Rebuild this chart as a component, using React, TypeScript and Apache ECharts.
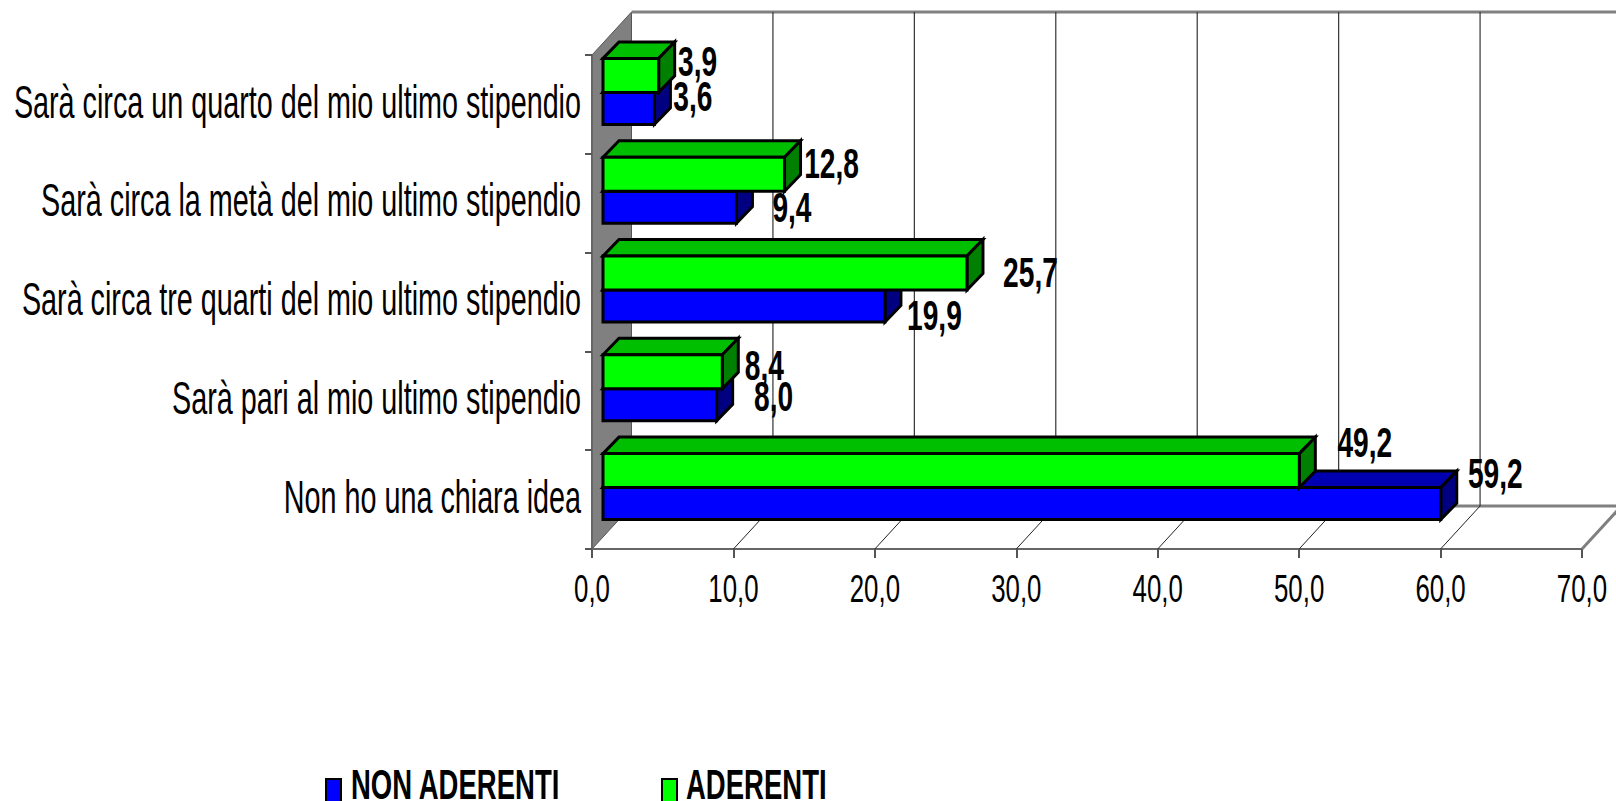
import React, { useEffect, useRef } from "react";
import * as echarts from "echarts";

const categories = [
  "Non ho una chiara idea",
  "Sarà pari al mio ultimo stipendio",
  "Sarà circa tre quarti del mio ultimo stipendio",
  "Sarà circa la metà del mio ultimo stipendio",
  "Sarà circa un quarto del mio ultimo stipendio",
];
const nonAderenti = [59.2, 8.0, 19.9, 9.4, 3.6];
const aderenti = [49.2, 8.4, 25.7, 12.8, 3.9];
const xTicks = [0, 10, 20, 30, 40, 50, 60, 70];
const xTickLabels = ["0,0", "10,0", "20,0", "30,0", "40,0", "50,0", "60,0", "70,0"];

// layout constants (pixels)
const BACK_DX = 39.5;
const BACK_DY = 43;
const BAR_INSET = 11;
const DEPTH_X = 16;
const DEPTH_Y = 16.5;
const GREEN_BAND = [-46, -12];
const BLUE_BAND = [-12, 20];
const GREEN_LABEL_NUDGE = [[66, -56.5], [42.5, -34.5], [64, -29], [47.5, -39.5], [39.5, -42.5]];
const BLUE_LABEL_NUDGE = [[55, -25.5], [57.5, -3.5], [50, 14], [56, 4.5], [39, -7.5]];
const GRAY = "#808080";
const FONT = '"Liberation Sans", Arial, sans-serif';

const fmt = (v: number) => v.toFixed(1).replace(".", ",");

function barSeries(
  name: string,
  values: number[],
  band: number[],
  front: string,
  top: string,
  side: string
) {
  return {
    name,
    type: "custom",
    z: 5,
    data: values.map((v, i) => [v, i]),
    encode: { x: 0, y: 1 },
    renderItem: (params: any, api: any) => {
      const v = api.value(0);
      const idx = api.value(1);
      const p = api.coord([v, idx]);
      const o = api.coord([0, idx]);
      const x0 = o[0] + BAR_INSET;
      const x1 = p[0] + BAR_INSET + 0.5;
      const y0 = p[1] + band[0];
      const y1 = p[1] + band[1];
      const edge = { stroke: "#000", lineWidth: 3, lineJoin: "miter" };
      return {
        type: "group",
        children: [
          {
            type: "polygon",
            shape: { points: [[x0, y0], [x0 + DEPTH_X, y0 - DEPTH_Y], [x1 + DEPTH_X, y0 - DEPTH_Y], [x1, y0]] },
            style: { fill: top, ...edge },
          },
          {
            type: "polygon",
            shape: { points: [[x1, y0], [x1 + DEPTH_X, y0 - DEPTH_Y], [x1 + DEPTH_X, y1 - DEPTH_Y], [x1, y1]] },
            style: { fill: side, ...edge },
          },
          {
            type: "rect",
            shape: { x: x0, y: y0, width: x1 - x0, height: y1 - y0 },
            style: { fill: front, ...edge },
          },
        ],
      };
    },
  };
}

function valueLabels(values: number[], nudge: number[][]) {
  return {
    type: "custom",
    z: 8,
    silent: true,
    data: values.map((v, i) => [v, i]),
    encode: { x: 0, y: 1 },
    renderItem: (params: any, api: any) => {
      const v = api.value(0);
      const p = api.coord([v, api.value(1)]);
      const n = nudge[params.dataIndex];
      return {
        type: "text",
        x: p[0] + BAR_INSET + n[0],
        y: p[1] + n[1],
        scaleX: 0.67,
        style: {
          text: fmt(v),
          fill: "#000",
          font: `bold 42px ${FONT}`,
          textAlign: "center",
          textVerticalAlign: "middle",
        },
      };
    },
  };
}

export default function App() {
  const ref = useRef<HTMLDivElement>(null);
  useEffect(() => {
    document.body.style.margin = "0";
    const chart = echarts.init(ref.current!, undefined, { renderer: "svg" });
    chart.setOption({
      animation: false,
      backgroundColor: "#fff",
      grid: { left: 592, top: 55, width: 990, height: 494, containLabel: false },
      xAxis: {
        type: "value",
        min: 0,
        max: 70,
        interval: 10,
        axisLine: { show: true, lineStyle: { color: "#666", width: 2 } },
        axisTick: { show: true, length: 9, lineStyle: { color: "#555", width: 2 } },
        axisLabel: { show: false },
        splitLine: { show: false },
      },
      yAxis: {
        type: "category",
        data: categories,
        z: 3,
        axisLine: { show: true, lineStyle: { color: "#666", width: 2 } },
        axisTick: { show: true, length: 7, lineStyle: { color: "#555", width: 2 } },
        axisLabel: { show: false },
      },
      series: [
        {
          // back wall, floor and back gridlines
          type: "custom",
          z: 1,
          silent: true,
          data: xTicks.map((t) => [t, 0]),
          encode: { x: 0, y: 1 },
          renderItem: (params: any, api: any) => {
            const t = api.value(0);
            const p = api.coord([t, 0]);
            const bottom = p[1] + api.size([0, 1])[1] / 2;
            const top = bottom - 494;
            const children: any[] = [];
            if (t === 0) {
              children.push({
                type: "polygon",
                shape: {
                  points: [[p[0], top], [p[0] + BACK_DX, top - BACK_DY], [p[0] + BACK_DX, bottom - BACK_DY], [p[0], bottom]],
                },
                style: { fill: GRAY, stroke: "#555", lineWidth: 1 },
              });
              children.push({
                type: "line",
                shape: { x1: p[0] + BACK_DX, y1: top - BACK_DY, x2: 1640, y2: top - BACK_DY },
                style: { stroke: GRAY, lineWidth: 3 },
              });
              children.push({
                type: "line",
                shape: { x1: p[0] + BACK_DX, y1: bottom - BACK_DY, x2: 1640, y2: bottom - BACK_DY },
                style: { stroke: GRAY, lineWidth: 3 },
              });
            } else {
              const last = t === 70;
              children.push({
                type: "line",
                shape: { x1: p[0], y1: bottom, x2: p[0] + BACK_DX, y2: bottom - BACK_DY },
                style: { stroke: last ? GRAY : "#222", lineWidth: last ? 3 : 1 },
              });
              children.push({
                type: "line",
                shape: { x1: p[0] + BACK_DX, y1: bottom - BACK_DY, x2: p[0] + BACK_DX, y2: top - BACK_DY },
                style: { stroke: "#333", lineWidth: 1.2 },
              });
            }
            return { type: "group", children };
          },
        },
        barSeries("NON ADERENTI", nonAderenti, BLUE_BAND, "#0000FF", "#0000B0", "#000080"),
        barSeries("ADERENTI", aderenti, GREEN_BAND, "#00FF00", "#00BF00", "#008000"),
        valueLabels(nonAderenti, BLUE_LABEL_NUDGE),
        valueLabels(aderenti, GREEN_LABEL_NUDGE),
        {
          // category labels
          type: "custom",
          z: 8,
          silent: true,
          data: categories.map((c, i) => [0, i]),
          encode: { x: 0, y: 1 },
          renderItem: (params: any, api: any) => {
            const p = api.coord([0, api.value(1)]);
            return {
              type: "text",
              x: p[0] - 11,
              y: p[1] - 3,
              scaleX: 0.625,
              style: {
                text: categories[params.dataIndex],
                fill: "#000",
                font: `46px ${FONT}`,
                textAlign: "right",
                textVerticalAlign: "middle",
              },
            };
          },
        },
        {
          // x tick labels
          type: "custom",
          z: 8,
          silent: true,
          data: xTicks.map((t) => [t, 0]),
          encode: { x: 0, y: 1 },
          renderItem: (params: any, api: any) => {
            const p = api.coord([api.value(0), 0]);
            const bottom = p[1] + api.size([0, 1])[1] / 2;
            return {
              type: "text",
              x: p[0],
              y: bottom + 40,
              scaleX: 0.68,
              style: {
                text: xTickLabels[params.dataIndex],
                fill: "#000",
                font: `38px ${FONT}`,
                textAlign: "center",
                textVerticalAlign: "middle",
              },
            };
          },
        },
      ],
      graphic: [
        { type: "rect", shape: { x: 326, y: 779, width: 15, height: 24 }, style: { fill: "#0000FF", stroke: "#000", lineWidth: 2 } },
        { type: "rect", shape: { x: 662, y: 779, width: 15, height: 24 }, style: { fill: "#00FF00", stroke: "#000", lineWidth: 2 } },
        {
          type: "text", x: 351, y: 785, scaleX: 0.655,
          style: { text: "NON ADERENTI", fill: "#000", font: `bold 42px ${FONT}`, lineHeight: 30, textAlign: "left", textVerticalAlign: "middle" },
        },
        {
          type: "text", x: 686, y: 785, scaleX: 0.655,
          style: { text: "ADERENTI", fill: "#000", font: `bold 42px ${FONT}`, lineHeight: 30, textAlign: "left", textVerticalAlign: "middle" },
        },
      ],
    });
    return () => chart.dispose();
  }, []);
  return <div ref={ref} style={{ width: 1616, height: 801 }} />;
}
